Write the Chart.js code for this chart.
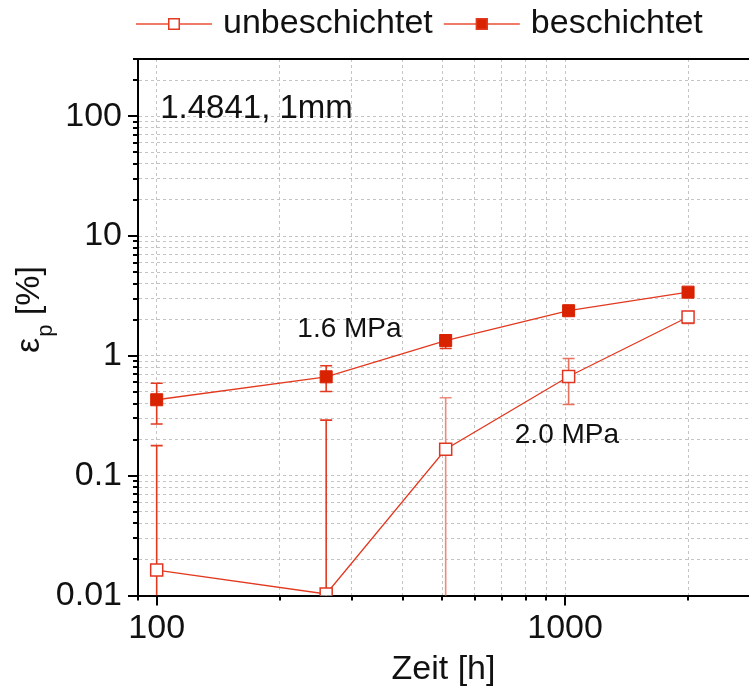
<!DOCTYPE html>
<html>
<head>
<meta charset="utf-8">
<script src="https://cdn.jsdelivr.net/npm/chart.js@4.4.0/dist/chart.umd.min.js"></script>
<style>
  html, body { margin: 0; padding: 0; background: #fff; }
</style>
</head>
<body>
<canvas id="kriech" width="749" height="690"></canvas>
<script>
// Zeit in h
const zeit = [100, 260, 510, 1020, 2000];

// plastische Dehnung in %
const unbeschichtet = [0.0163, 0.0103, 0.166, 0.672, 2.11];
const unbeschichtetMin = [0.001, 0.001, 0.001, 0.393, 1.86];
const unbeschichtetMax = [0.178, 0.291, 0.447, 0.95, 2.3];

const beschichtet = [0.43, 0.668, 1.34, 2.38, 3.40];
const beschichtetMin = [0.27, 0.504, 1.15, 2.2, 3.2];
const beschichtetMax = [0.59, 0.826, 1.50, 2.55, 3.6];

const xDecades = [100, 1000];
const xTickLabels = ['100', '1000'];
const yDecades = [0.01, 0.1, 1, 10, 100];
const yTickLabels = ['0.01', '0.1', '1', '10', '100'];

const notes = [
  { text: '1.4841, 1mm', x: 102, y: 96, size: 33 },
  { text: '1.6 MPa', x: 221, y: 1.44, size: 28 },
  { text: '2.0 MPa', x: 753, y: 0.188, size: 28 },
];

const FONT = "'Liberation Sans', Arial, sans-serif";
const INK = '#111111';
const RED = '#d92200';
const LINE = '#e2391f';
const SALMON = '#f07b68';

Chart.defaults.font.family = FONT;
Chart.defaults.font.size = 34;
Chart.defaults.color = INK;

// 1..9 je Dekade
function logTicks(lo, hi) {
  const out = [];
  for (let e = Math.floor(Math.log10(lo)); e <= Math.ceil(Math.log10(hi)); e++) {
    for (let m = 1; m < 10; m++) {
      const v = +(m * Math.pow(10, e)).toPrecision(3);
      if (v >= lo * 0.999 && v <= hi * 1.001) out.push(v);
    }
  }
  return out;
}
const isDecade = v => Math.abs(Math.log10(v) - Math.round(Math.log10(v))) < 1e-6;
const labelFor = (v, decades, labels) => {
  const i = decades.findIndex(d => Math.abs(v / d - 1) < 1e-6);
  return i >= 0 ? labels[i] : '';
};

const errorBars = {
  id: 'errorBars',
  beforeDatasetsDraw(chart) {
    const { ctx, chartArea: a, scales: { x, y } } = chart;
    const sets = [
      { lo: unbeschichtetMin, hi: unbeschichtetMax, colors: [LINE, LINE, '#ee8a7a', '#e8705e', '#e8705e'] },
      { lo: beschichtetMin, hi: beschichtetMax, colors: [LINE, LINE, LINE, LINE, LINE] },
    ];
    ctx.save();
    ctx.beginPath();
    ctx.rect(a.left, a.top, a.right - a.left, a.bottom - a.top);
    ctx.clip();
    ctx.lineWidth = 1.6;
    sets.forEach(s => {
      zeit.forEach((t, i) => {
        const px = x.getPixelForValue(t);
        const y1 = y.getPixelForValue(s.lo[i]);
        const y2 = y.getPixelForValue(s.hi[i]);
        ctx.strokeStyle = s.colors[i];
        ctx.beginPath();
        ctx.moveTo(px, y1); ctx.lineTo(px, y2);
        ctx.moveTo(px - 6, y1); ctx.lineTo(px + 6, y1);
        ctx.moveTo(px - 6, y2); ctx.lineTo(px + 6, y2);
        ctx.stroke();
      });
    });
    ctx.restore();
  }
};

const frame = {
  id: 'frame',
  afterDraw(chart) {
    const { ctx, chartArea: a, scales: { x, y } } = chart;
    ctx.save();
    ctx.strokeStyle = '#000';
    ctx.lineWidth = 2;
    ctx.beginPath();
    ctx.moveTo(a.left - 1, a.top); ctx.lineTo(a.right, a.top);
    x.ticks.forEach(t => {
      const px = Math.round(x.getPixelForValue(t.value));
      ctx.moveTo(px, a.bottom); ctx.lineTo(px, a.bottom + (isDecade(t.value) ? 10 : 5));
    });
    y.ticks.forEach(t => {
      const py = Math.round(y.getPixelForValue(t.value));
      ctx.moveTo(a.left, py); ctx.lineTo(a.left - (isDecade(t.value) ? 10 : 5), py);
    });
    ctx.stroke();

    // Achsentitel y: epsilon mit Index p
    ctx.fillStyle = INK;
    ctx.translate(39, 353);
    ctx.rotate(-Math.PI / 2);
    ctx.textBaseline = 'alphabetic';
    ctx.textAlign = 'left';
    ctx.font = '34px ' + FONT;
    ctx.fillText('ε', 0, 0);
    let w = ctx.measureText('ε').width;
    ctx.font = '22px ' + FONT;
    ctx.fillText('p', w + 1, 13);
    w += ctx.measureText('p').width + 1;
    ctx.font = '34px ' + FONT;
    ctx.fillText(' [%]', w, 0);
    ctx.restore();

    // Beschriftungen im Diagramm
    ctx.save();
    ctx.fillStyle = INK;
    ctx.textBaseline = 'alphabetic';
    ctx.textAlign = 'left';
    notes.forEach(n => {
      ctx.font = n.size + 'px ' + FONT;
      ctx.fillText(n.text, x.getPixelForValue(n.x), y.getPixelForValue(n.y));
    });
    ctx.restore();

    // Legende
    ctx.save();
    const items = chart.data.datasets;
    let lx = a.left - 2;
    const ly = 24;
    ctx.font = '34px ' + FONT;
    ctx.textBaseline = 'middle';
    items.forEach(ds => {
      ctx.strokeStyle = SALMON;
      ctx.lineWidth = 2;
      ctx.beginPath();
      ctx.moveTo(lx, ly); ctx.lineTo(lx + 76, ly);
      ctx.stroke();
      ctx.fillStyle = ds.backgroundColor;
      ctx.fillRect(lx + 32, ly - 6, 12, 12);
      ctx.strokeStyle = ds.borderColor;
      ctx.lineWidth = 1.5;
      ctx.strokeRect(lx + 32.75, ly - 5.25, 10.5, 10.5);
      ctx.fillStyle = INK;
      ctx.fillText(ds.label, lx + 87, ly);
      lx += 87 + ctx.measureText(ds.label).width + 11;
    });
    ctx.restore();
  }
};

const gridStyle = { color: '#c4c4c4', lineWidth: 1, drawTicks: false };
const axisBorder = { display: true, color: '#000', width: 2, dash: [3, 3] };

new Chart(document.getElementById('kriech'), {
  type: 'line',
  data: {
    datasets: [{
      label: 'unbeschichtet',
      data: zeit.map((t, i) => ({ x: t, y: unbeschichtet[i] })),
      borderColor: LINE,
      borderWidth: 1.3,
      backgroundColor: '#ffffff',
      pointStyle: 'rect',
      pointRadius: 8.5,
      pointBorderWidth: 1.5,
      pointBorderColor: '#e03520',
      pointBackgroundColor: '#ffffff',
      clip: 0,
    }, {
      label: 'beschichtet',
      data: zeit.map((t, i) => ({ x: t, y: beschichtet[i] })),
      borderColor: LINE,
      borderWidth: 1.3,
      backgroundColor: RED,
      pointStyle: 'rect',
      pointRadius: 8.5,
      pointBorderWidth: 1,
      pointBorderColor: RED,
      pointBackgroundColor: RED,
      clip: 0,
    }]
  },
  options: {
    responsive: false,
    animation: false,
    layout: { autoPadding: false, padding: { top: 59, right: 0, bottom: 0, left: 0 } },
    scales: {
      x: {
        type: 'logarithmic',
        position: 'bottom',
        min: 90,
        max: 2820,
        grid: gridStyle,
        border: axisBorder,
        afterBuildTicks: s => { s.ticks = logTicks(90, 2000).map(v => ({ value: v })); },
        afterFit: s => { s.height = 94.5; s.paddingLeft = 0; s.paddingRight = 0; },
        ticks: {
          autoSkip: false,
          maxRotation: 0,
          padding: 13,
          color: INK,
          callback: v => labelFor(v, xDecades, xTickLabels),
        },
        title: { display: true, text: 'Zeit [h]', color: INK, padding: { top: 0, bottom: 0 } },
      },
      y: {
        type: 'logarithmic',
        position: 'left',
        min: 0.01,
        max: 300,
        grid: gridStyle,
        border: axisBorder,
        afterBuildTicks: s => { s.ticks = logTicks(0.01, 300).map(v => ({ value: v })); },
        afterFit: s => { s.width = 138; s.paddingTop = 0; s.paddingBottom = 0; },
        ticks: {
          autoSkip: false,
          padding: 16,
          color: INK,
          callback: v => labelFor(v, yDecades, yTickLabels),
        },
      },
    },
    plugins: {
      legend: { display: false },
      tooltip: { enabled: false },
    },
  },
  plugins: [errorBars, frame],
});
</script>
</body>
</html>
